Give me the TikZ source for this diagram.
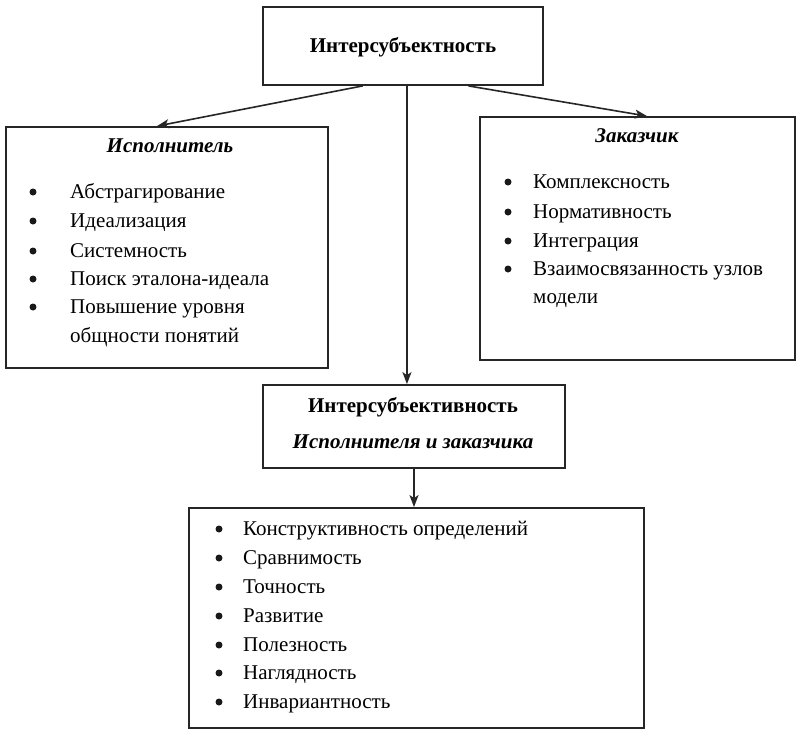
\documentclass[tikz,border=0pt]{standalone}
\usepackage{fontspec}
\setmainfont{Liberation Serif}
\usetikzlibrary{arrows.meta,calc}
\begin{document}
\begin{tikzpicture}[x=1pt,y=-1pt,
  box/.style={draw=black!85,line width=1.8pt,rectangle,inner sep=0pt},
  arr/.style={draw=black!85,line width=1.6pt,-{Stealth[length=12pt,width=9pt,inset=3pt]}},
  itemtxt/.style={anchor=base west,inner sep=0pt,font=\fontsize{21}{25}\selectfont},
  bul/.style={circle,fill=black!90,inner sep=0pt,minimum size=7pt},
  head/.style={anchor=base,inner sep=0pt,font=\fontsize{21}{25}\selectfont\bfseries\itshape},
  headb/.style={anchor=base,inner sep=0pt,font=\fontsize{21}{25}\selectfont\bfseries}]
\useasboundingbox (0,0) rectangle (805,744);
% boxes
\node[box,minimum width=280pt,minimum height=78pt] (top) at (403,46) {};
\node[box,minimum width=322pt,minimum height=241pt] (left) at (167,247.5) {};
\node[box,minimum width=315pt,minimum height=243pt] (right) at (637.5,238.5) {};
\node[box,minimum width=302pt,minimum height=83pt] (mid) at (414,426.5) {};
\node[box,minimum width=455pt,minimum height=220pt] (bot) at (416.5,618) {};
% texts
\node[headb] (t0) at (403,52) {Интерсубъектность};
\node[head] (lh) at (170,152) {Исполнитель};
\node[head] (rh) at (637,142) {Заказчик};
\node[headb] (m1) at (413,412) {Интерсубъективность};
\node[head] (m2) at (413,448) {Исполнителя и заказчика};
% left list
\foreach \y/\t [count=\i] in {198/Абстрагирование,227/Идеализация,257/Системность,285/Поиск эталона-идеала,313/Повышение уровня}{
  \node[bul] (lb\i) at (33,\y-6) {};
  \node[itemtxt] (li\i) at (70,\y) {\t};
}
\node[itemtxt] (li6) at (70,342) {общности понятий};
% right list
\foreach \y/\t [count=\i] in {188/Комплексность,218/Нормативность,247/Интеграция,275/Взаимосвязанность узлов}{
  \node[bul] (rb\i) at (508,\y-6) {};
  \node[itemtxt] (ri\i) at (533,\y) {\t};
}
\node[itemtxt] (ri5) at (533,303) {модели};
% bottom list
\foreach \y/\t [count=\i] in {535/Конструктивность определений,564/Сравнимость,593/Точность,622/Развитие,651/Полезность,679/Наглядность,708/Инвариантность}{
  \node[bul] (bb\i) at (219,\y-6) {};
  \node[itemtxt] (bi\i) at (243,\y) {\t};
}
% connectors
\draw[arr] ($(top.south west)!0.357!(top.south east)$) -- ($(left.north west)!0.469!(left.north east)$);
\draw[arr] ($(top.south west)!0.732!(top.south east)$) -- ($(right.north west)!0.53!(right.north east)$);
\draw[arr] ($(top.south west)!0.514!(top.south east)$) coordinate (vtop) -- (vtop |- mid.north);
\draw[arr] (mid.south) -- (mid.south |- bot.north);
\end{tikzpicture}
\end{document}
